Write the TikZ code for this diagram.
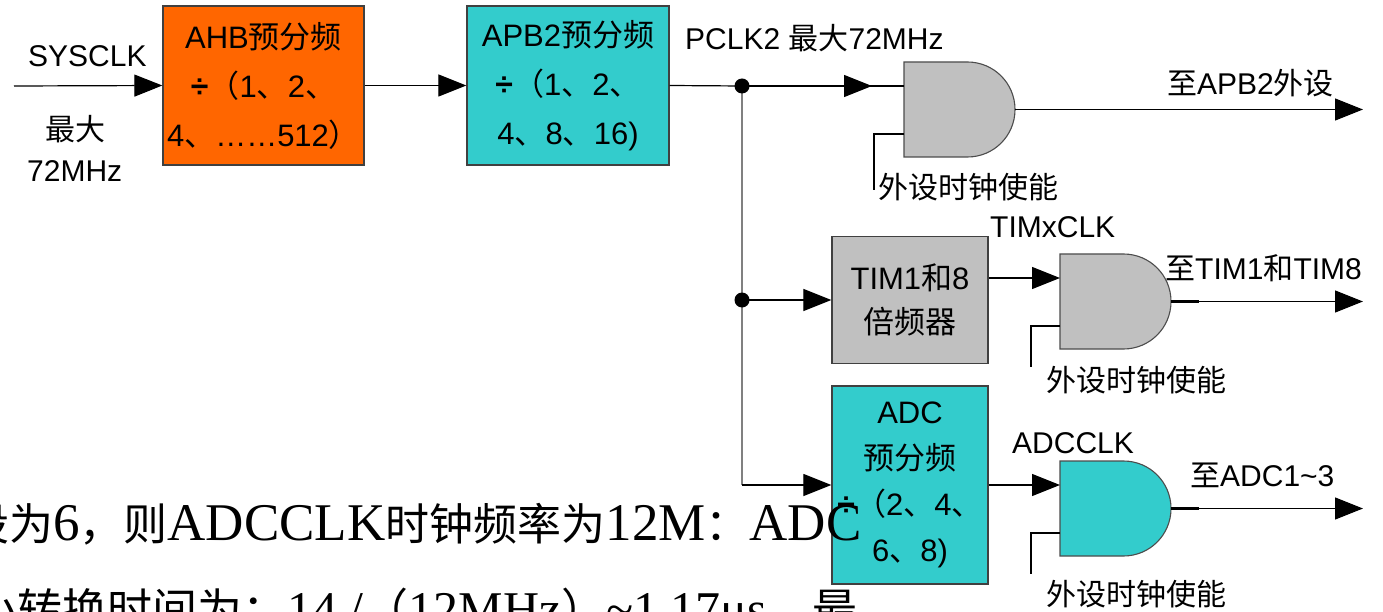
\documentclass[tikz,border=0pt]{standalone}
\usepackage{fontspec}
\setmainfont{Liberation Sans}
\newfontfamily\cjk{Noto Sans CJK SC}
\newfontfamily\serifz{Liberation Serif}
\usetikzlibrary{arrows.meta}
\newcommand\zh[1]{{\cjk #1}}
\newcommand\bz[1]{{\cjk\fontsize{44}{44}\selectfont #1}}
\newcommand\bzz[1]{{\cjk\fontsize{45}{45}\selectfont #1}}
\newcommand\dv{{\bfseries\fontsize{32}{32}\selectfont ÷}}
\definecolor{orangeb}{HTML}{FF6600}
\definecolor{cyanb}{HTML}{33CCCC}
\definecolor{grayb}{HTML}{C0C0C0}
\definecolor{busgray}{HTML}{808080}
\tikzset{
  box/.style={draw=black!75, line width=1.3pt, inner sep=0pt, align=center,
    font=\fontsize{31}{#1}\selectfont},
  wire/.style={draw=black, line width=1.2pt},
  bus/.style={draw=busgray, line width=1.2pt},
  arr/.style={wire, -{Triangle[length=28pt,width=22pt]}},
  gateline/.style={draw=black!70, line width=1.1pt},
  lbl/.style={anchor=west, inner sep=0pt, font=\fontsize{30}{36}\selectfont},
  dotc/.style={fill=black}
}
\newcommand\andgate[4]{%
  \path[gateline, fill=#4] (#2,#3) -- ++(63.5,0)
     arc[start angle=-90, end angle=90, radius=47.5] -- ++(-63.5,0) -- cycle;
  \coordinate (#1in1) at (#2,#3+24);
  \coordinate (#1in2) at (#2,#3+72);
  \coordinate (#1out) at (#2+111,#3+47.5);
}
\begin{document}
\begin{tikzpicture}[x=1pt,y=-1pt]
\useasboundingbox (0,0) rectangle (1383,612);
\clip (0,0) rectangle (1383,612);
\fill[white] (0,0) rectangle (1383,612);

% boxes
\node[box=49, fill=orangeb, minimum width=201pt, minimum height=159pt] (ahb) at (263.5,85.5)
  {AHB\zh{预分频}\\\dv\zh{（}1\zh{、}2\zh{、}\\4\zh{、}……512\zh{）}};
\node[box=49, fill=cyanb, minimum width=202pt, minimum height=159pt] (apb) at (568,85.5)
  {APB2\zh{预分频}\\\dv\zh{（}1\zh{、}2\zh{、}\\4\zh{、}8\zh{、}16)};
\node[box=44, fill=grayb, minimum width=156pt, minimum height=127pt] (tim) at (910,300)
  {TIM1\zh{和}8\\\zh{倍频器}};
\node[box=46, fill=cyanb, minimum width=156pt, minimum height=198pt] (adc) at (910,485)
  {ADC\\\zh{预分频}\\\dv\zh{（}2\zh{、}4\zh{、}\\6\zh{、}8)};

% gates
\andgate{ga}{904}{62}{grayb}
\andgate{gb}{1060}{254}{grayb}
\andgate{gc}{1060}{461}{cyanb}

% coordinates
\coordinate (sysin) at (14,86);
\coordinate (d1) at (742,86);
\coordinate (d2) at (742,300);
\coordinate (b3) at (742,485);
\coordinate (m1) at (872,86);
\coordinate (ea) at (874,190);
\coordinate (eb) at (1031,367);
\coordinate (ec) at (1031,574);
\coordinate (oa) at (1363,109.5);
\coordinate (ob) at (1363,301.5);
\coordinate (oc) at (1363,508.5);

% connectors
\draw[arr] (sysin) -- (ahb.west);
\draw[arr] (ahb.east) -- (apb.west);
\draw[wire] (apb.east) -- (d1);
\draw[wire] (d1) -- (gain1);
\draw[arr] (d1) -- (m1);
\draw[bus] (d1) -- (b3);
\draw[arr] (d2) -- (tim.west);
\draw[arr] (b3) -- (adc.west);
\draw[arr] (tim.east |- gbin1) -- (gbin1);
\draw[arr] (adc.east) -- (gcin1);
\draw[wire] (gain2) -| (ea);
\draw[wire] (gbin2) -| (eb);
\draw[wire] (gcin2) -| (ec);
\draw[arr] (gaout) -- (oa);
\draw[arr] (gbout) -- (ob);
\draw[arr] (gcout) -- (oc);
\draw[line width=2.6pt] (gbout) -- ++(28,0);
\draw[line width=2.6pt] (gcout) -- ++(28,0);
\fill[dotc] (d1) circle[radius=7.5pt];
\fill[dotc] (d2) circle[radius=7.5pt];

% labels
\node[lbl] (lsys) at (28,56) {SYSCLK};
\node[lbl] (lmax) at (45,129) {\zh{最大}};
\node[lbl] (l72) at (27,171) {72MHz};
\node[lbl] (lpclk) at (685,38) {PCLK2 \zh{最大}72MHz};
\node[lbl] (lapb) at (1167,83) {\zh{至}APB2\zh{外设}};
\node[lbl] (lena) at (878,187) {\zh{外设时钟使能}};
\node[lbl] (ltimx) at (990,227) {TIMxCLK};
\node[lbl] (ltimo) at (1165,268) {\zh{至}TIM1\zh{和}TIM8};
\node[lbl] (lenb) at (1046,380) {\zh{外设时钟使能}};
\node[lbl] (ladcclk) at (1012,443) {ADCCLK};
\node[lbl] (ladco) at (1190,475) {\zh{至}ADC1\textasciitilde3};
\node[lbl] (lenc) at (1046,594) {\zh{外设时钟使能}};

% overlay text (cropped)
\node[anchor=base west, inner sep=0pt, font=\serifz\fontsize{53}{53}\selectfont] (t1) at (-35,540)
  {\bz{设为}6\bz{，则}ADCCLK\bz{时钟频率为}12M\bz{：}ADC};
\node[anchor=base west, inner sep=0pt, font=\serifz\fontsize{50}{50}\selectfont] (t2) at (-28,626)
  {\bzz{小转换时间为：}14 /\bzz{（}12MHz\bzz{）}\textasciitilde1.17μs\bzz{，最}};
\end{tikzpicture}
\end{document}
